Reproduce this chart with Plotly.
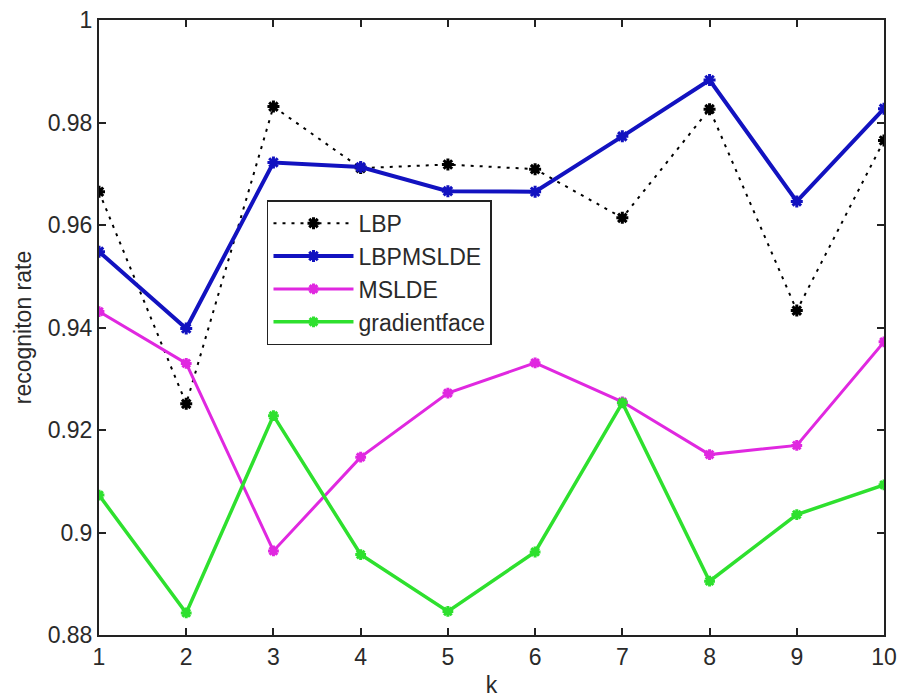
import plotly.graph_objects as go

k = list(range(1, 11))
lbp = [0.9665, 0.9251, 0.9831, 0.9711, 0.9718, 0.9709, 0.9614, 0.9826, 0.9433, 0.9765]
lbpmslde = [0.9548, 0.9398, 0.9722, 0.9713, 0.9666, 0.9665, 0.9773, 0.9883, 0.9646, 0.9827]
mslde = [0.9431, 0.9330, 0.8964, 0.9147, 0.9272, 0.9331, 0.9255, 0.9152, 0.9170, 0.9372]
gradientface = [0.9073, 0.8843, 0.9228, 0.8957, 0.8846, 0.8962, 0.9253, 0.8905, 0.9035, 0.9093]

yticks = [0.88, 0.90, 0.92, 0.94, 0.96, 0.98, 1.0]
ytick_text = ["0.88", "0.9", "0.92", "0.94", "0.96", "0.98", "1"]

series = [
    ("LBP", lbp, "black", 2, "3px,6px", 10),
    ("LBPMSLDE", lbpmslde, "#1212c0", 4, "solid", 10),
    ("MSLDE", mslde, "#e028e0", 3, "solid", 9),
    ("gradientface", gradientface, "#2ee02e", 3.5, "solid", 9),
]

FONT = "Liberation Sans, Arial, sans-serif"
fig = go.Figure()
for name, vals, color, w, dash, ms in series:
    fig.add_trace(go.Scatter(
        x=k, y=vals, name=name, mode="lines+markers",
        line=dict(color=color, width=w, dash=dash),
        marker=dict(symbol="asterisk-open", size=ms, color=color,
                    line=dict(color=color, width=3)),
    ))

axis_common = dict(
    showline=True, linecolor="#222", linewidth=2, mirror="ticks",
    ticks="inside", ticklen=7, tickwidth=1.5, tickcolor="#222",
    showgrid=False, zeroline=False, automargin=False,
    tickfont=dict(family=FONT, size=23, color="#2a2a2a"),
)
fig.update_layout(
    width=900, height=699,
    margin=dict(l=99, r=16, t=20, b=64),
    paper_bgcolor="white", plot_bgcolor="white",
    xaxis=dict(range=[1, 10], tickvals=k,
               title=dict(text="k", standoff=8,
                          font=dict(family=FONT, size=23, color="#2a2a2a")),
               **axis_common),
    yaxis=dict(range=[0.88, 1.0], tickvals=yticks, ticktext=ytick_text,
               title=dict(text="recogniton rate", standoff=10,
                          font=dict(family=FONT, size=23, color="#2a2a2a")),
               **axis_common),
    legend=dict(x=0.214, y=0.707, xanchor="left", yanchor="top",
                bgcolor="white", bordercolor="#222", borderwidth=1.5,
                font=dict(family=FONT, size=23, color="#2a2a2a"),
                itemwidth=80, tracegroupgap=0),
    showlegend=True,
)
fig.write_html("out.html")
